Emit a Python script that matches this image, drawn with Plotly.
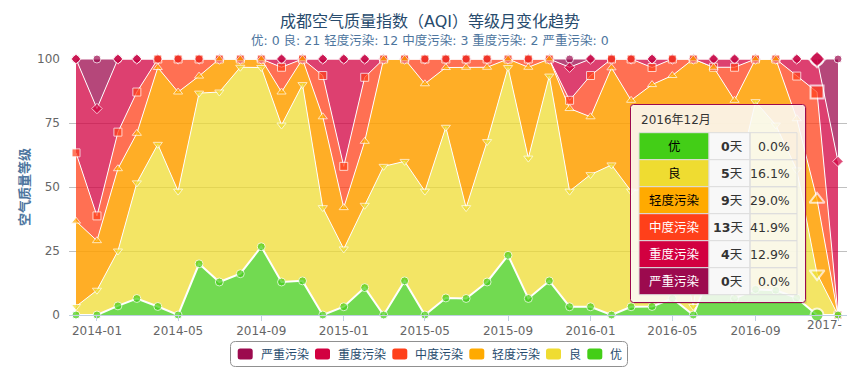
import plotly.graph_objects as go
import numpy as np
import pandas as pd

# ---------------- data (days per AQI level per month) ----------------
months = ["2013-12", "2014-01", "2014-02", "2014-03", "2014-04", "2014-05", "2014-06",
          "2014-07", "2014-08", "2014-09", "2014-10", "2014-11", "2014-12",
          "2015-01", "2015-02", "2015-03", "2015-04", "2015-05", "2015-06",
          "2015-07", "2015-08", "2015-09", "2015-10", "2015-11", "2015-12",
          "2016-01", "2016-02", "2016-03", "2016-04", "2016-05", "2016-06",
          "2016-07", "2016-08", "2016-09", "2016-10", "2016-11", "2016-12", "2017-01"]

days_you      = [0, 0, 1, 2, 1, 0, 6, 4, 5, 8, 4, 4, 0, 1, 3, 0, 4, 0, 2, 2, 4, 7, 2, 4, 1,
                 1, 0, 1, 1, 2, 0, 6, 2, 3, 3, 2, 0, 0]
days_liang    = [1, 3, 6, 14, 19, 15, 20, 23, 25, 21, 19, 23, 13, 7, 9, 18, 14, 15, 20, 11, 17, 22, 17, 24, 14,
                 16, 17, 14, 14, 10, 1, 12, 13, 22, 20, 15, 5, 0]
days_qingdu   = [10, 6, 9, 6, 9, 12, 2, 4, 1, 1, 4, 3, 11, 5, 7, 13, 12, 13, 7, 17, 9, 1, 11, 2, 10,
                 7, 11, 11, 12, 17, 29, 12, 11, 5, 8, 6, 9, 0]
days_zhongdu  = [8, 3, 4, 5, 1, 4, 2, 0, 0, 0, 3, 0, 5, 5, 7, 0, 0, 3, 1, 1, 1, 0, 1, 0, 1,
                 5, 1, 5, 2, 2, 0, 0, 4, 0, 0, 5, 13, 0]
days_zhong    = [11, 13, 8, 4, 0, 0, 0, 0, 0, 0, 1, 0, 2, 13, 2, 0, 0, 0, 0, 0, 0, 0, 0, 0, 4,
                 2, 0, 0, 1, 0, 0, 1, 1, 0, 0, 2, 4, 3]
days_yanzhong = [0, 6, 0, 0, 0, 0, 0, 0, 0, 0, 0, 0, 0, 0, 0, 0, 0, 0, 0, 0, 0, 0, 0, 0, 1,
                 0, 0, 0, 0, 0, 0, 0, 0, 0, 0, 0, 0, 2]

categories = ["优", "良", "轻度污染", "中度污染", "重度污染", "严重污染"]
tick_months = ["2014-01", "2014-05", "2014-09", "2015-01", "2015-05", "2015-09",
               "2016-01", "2016-05", "2016-09", "2017-01"]
tick_labels = ["2014-01", "2014-05", "2014-09", "2015-01", "2015-05", "2015-09",
               "2016-01", "2016-05", "2016-09", "2017-"]      # last label is cut at the chart edge
title_text = "成都空气质量指数（AQI）等级月变化趋势"
subtitle_text = "优: 0 良: 21 轻度污染: 12 中度污染: 3 重度污染: 2 严重污染: 0"
y_title = "空气质量等级"
highlight_month = "2016-12"

# ---------------- styles ----------------
colors = ["#43CE17", "#EFDC31", "#FFAA00", "#FF401A", "#D20040", "#9C0A4E"]
fills = ["rgba(67,206,23,0.75)", "rgba(239,220,49,0.75)", "rgba(255,160,0,0.85)",
         "rgba(255,64,26,0.75)", "rgba(210,0,64,0.75)", "rgba(156,10,78,0.75)"]
symbols = ["circle", "triangle-down", "triangle-up", "square", "diamond", "circle"]
FONT = "Verdana, DejaVu Sans, Noto Sans CJK SC, sans-serif"

OFF = 8                                  # page body margin
W, H = 840, 372                          # figure size
L, R, T, B = 69, 847, 59, 315            # plot area in page px


def X(px):
    return (px - L) / (R - L)


def Y(py):
    return (B - py) / (B - T)


def rrect(x0, y0, x1, y1, r):
    return ("M {a},{b} L {c},{b} Q {d},{b} {d},{e} L {d},{f} Q {d},{g} {c},{g} "
            "L {a},{g} Q {h},{g} {h},{f} L {h},{e} Q {h},{b} {a},{b} Z").format(
        a=X(x0 + r), b=Y(y0), c=X(x1 - r), d=X(x1), e=Y(y0 + r), f=Y(y1 - r),
        g=Y(y1), h=X(x0))


def ann(text, px, py, xanchor="center", size=12, color="#333333", angle=0):
    return dict(text=text, x=X(px), y=Y(py), xref="paper", yref="paper",
                xanchor=xanchor, yanchor="middle", showarrow=False, textangle=angle,
                font=dict(size=size, color=color, family=FONT))


series = [days_you, days_liang, days_qingdu, days_zhongdu, days_zhong, days_yanzhong]
arr = np.array(series, dtype=float)
total = arr.sum(axis=0)
cum = np.cumsum(arr, axis=0) / total * 100.0
x = pd.to_datetime([m + "-01" for m in months])
hi = months.index(highlight_month)

fig = go.Figure()

# stacked percentage areas
for k in range(6):
    fig.add_trace(go.Scatter(
        x=x, y=series[k], stackgroup="aqi", groupnorm="percent" if k == 0 else None,
        mode="lines", line=dict(color="white", width=2 if k == 0 else 1),
        fillcolor=fills[k], name=categories[k],
        showlegend=False, hoverinfo="skip"))

# markers (top series drawn first so lower series markers sit on top)
for k in reversed(range(6)):
    sizes = [8] * len(months)
    lws = [1] * len(months)
    sizes[hi] = 13
    lws[hi] = 2
    fig.add_trace(go.Scatter(
        x=x, y=cum[k], mode="markers", cliponaxis=False,
        marker=dict(symbol=symbols[k], size=sizes, color=colors[k],
                    line=dict(color="white", width=lws)),
        showlegend=False, hoverinfo="skip"))

# x range: small padding on both sides
px_per_day = (838 - 76) / (x[-1] - x[0]).days
xmin = x[0] - pd.Timedelta(days=(76 - L) / px_per_day)
xmax = x[-1] + pd.Timedelta(days=(R - 838) / px_per_day)

shapes = []
annots = []

# last x tick label (cut at the right edge of the chart) drawn as text ending near the edge
annots.append(ann(tick_labels[-1], 844, 325, xanchor="right", size=12, color="#666666"))

# ---------------- titles ----------------
annots.append(ann(title_text, 430, 21, size=16, color="#274b6d"))
annots.append(ann(subtitle_text, 430, 40, size=12.5, color="#4d759e"))
annots.append(ann("<b>%s</b>" % y_title, 24, 187, size=13, color="#4d759e", angle=-90))

# ---------------- legend (manual) ----------------
shapes.append(dict(type="path", path=rrect(230.5, 341.5, 627.5, 366.5, 5), xref="paper", yref="paper",
                   line=dict(color="#909090", width=1), fillcolor="rgba(0,0,0,0)"))
leg_order = [5, 4, 3, 2, 1, 0]
leg_sym_x = [237.7, 315, 392.3, 469.3, 546, 587.3]
for sx, k in zip(leg_sym_x, leg_order):
    shapes.append(dict(type="path", path=rrect(sx, 348.5, sx + 15, 359.5, 2.5), xref="paper", yref="paper",
                       line=dict(width=0), fillcolor=colors[k]))
    annots.append(ann(categories[k], sx + 21, 354.5, xanchor="left", size=12, color="#274b6d"))

# ---------------- tooltip ----------------
tx0, ty0, tx1, ty1 = 630.5, 104.5, 805.5, 302.5
shapes.append(dict(type="path", path=rrect(tx0 + 1.5, ty0 + 1.5, tx1 + 1.5, ty1 + 1.5, 3), xref="paper",
                   yref="paper", line=dict(width=0), fillcolor="rgba(0,0,0,0.10)", layer="above"))
shapes.append(dict(type="path", path=rrect(tx0, ty0, tx1, ty1, 3), xref="paper", yref="paper",
                   line=dict(color="#9C0A4E", width=1), fillcolor="rgba(255,255,255,0.85)", layer="above"))
annots.append(ann("%s年%s月" % (highlight_month[:4], int(highlight_month[5:])), 639, 120,
                  xanchor="left", size=12, color="#333333"))
cx = [639, 709, 750, 797]
row_top, row_h = 132.7, 27
text_col = ["black", "black", "black", "white", "white", "white"]
for r in range(6):
    y0 = row_top + r * row_h
    y1 = y0 + row_h
    yc = (y0 + y1) / 2
    shapes.append(dict(type="rect", x0=X(cx[0]), x1=X(cx[1]), y0=Y(y0), y1=Y(y1), xref="paper", yref="paper",
                       fillcolor=colors[r], line=dict(color="#dddddd", width=1), layer="above"))
    shapes.append(dict(type="rect", x0=X(cx[1]), x1=X(cx[2]), y0=Y(y0), y1=Y(y1), xref="paper", yref="paper",
                       fillcolor="#f8f8f8", line=dict(color="#dddddd", width=1), layer="above"))
    shapes.append(dict(type="rect", x0=X(cx[2]), x1=X(cx[3]), y0=Y(y0), y1=Y(y1), xref="paper", yref="paper",
                       fillcolor="rgba(0,0,0,0)", line=dict(color="#dddddd", width=1), layer="above"))
    d = int(arr[r, hi])
    p = arr[r, hi] / total[hi] * 100
    annots.append(ann(categories[r], (cx[0] + cx[1]) / 2, yc, size=12.5, color=text_col[r]))
    annots.append(ann("<b>%d</b>天" % d, cx[2] - 5, yc, xanchor="right", size=12.5, color="#333333"))
    annots.append(ann("%.1f%%" % p, cx[3] - 5, yc, xanchor="right", size=12.5, color="#333333"))

fig.update_layout(
    width=W, height=H,
    margin=dict(l=L - OFF, r=(OFF + W) - R, t=T - OFF, b=(OFF + H) - B, pad=0),
    paper_bgcolor="white", plot_bgcolor="white",
    showlegend=False,
    font=dict(family=FONT, size=12, color="#666666"),
    xaxis=dict(type="date", range=[xmin, xmax],
               tickvals=pd.to_datetime([m + "-01" for m in tick_months]),
               ticktext=tick_labels[:-1] + [""],
               ticks="outside", ticklen=5, tickcolor="#C0D0E0", showline=True, linecolor="#C0D0E0",
               showgrid=False, zeroline=False, tickfont=dict(size=12, color="#666666")),
    yaxis=dict(range=[0, 100], tickvals=[0, 25, 50, 75, 100], showgrid=True, gridcolor="#C0C0C0",
               zeroline=False, showline=False, ticks="", ticklabelstandoff=8,
               tickfont=dict(size=12, color="#666666")),
    shapes=shapes, annotations=annots,
)

fig.write_html("out.html")
